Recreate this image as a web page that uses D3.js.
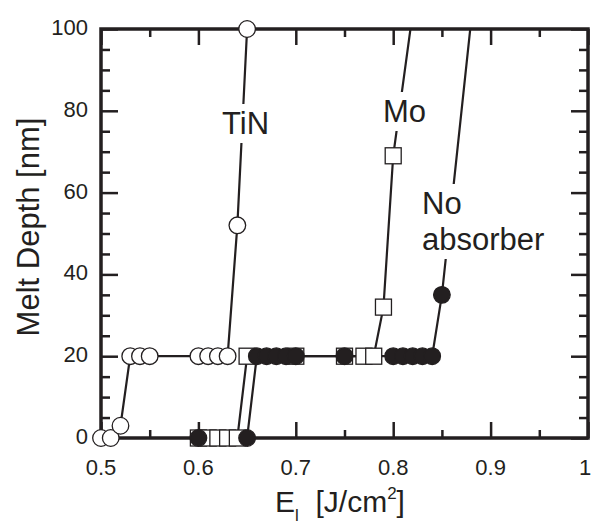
<!DOCTYPE html>
<html>
<head>
<meta charset="utf-8">
<script src="https://cdn.jsdelivr.net/npm/d3@7"></script>
<style>
  body { margin: 0; background: #fff; }
  text { font-family: "Liberation Sans", Arial, Helvetica, sans-serif; fill: #231f20; }
</style>
</head>
<body>
<div class="svg-container"></div>
<script>
// data: E_l [J/cm2] vs melt depth [nm]
const tinE     = [0.50, 0.51, 0.52, 0.53, 0.54, 0.55, 0.60, 0.61, 0.62, 0.63, 0.64, 0.65];
const tinDepth = [0,    0,    3,    20,   20,   20,   20,   20,   20,   20,   52,   100];

const moE      = [0.60, 0.61, 0.62, 0.63, 0.64, 0.65, 0.70, 0.75, 0.77, 0.78, 0.79, 0.80, 0.82];
const moDepth  = [0,    0,    0,    0,    0,    20,   20,   20,   20,   20,   32,   69,   104];

const noE      = [0.60, 0.65, 0.66, 0.67, 0.68, 0.69, 0.70, 0.75, 0.80, 0.81, 0.82, 0.83, 0.84, 0.85, 0.88];
const noDepth  = [0,    0,    20,   20,   20,   20,   20,   20,   20,   20,   20,   20,   20,   35,   102];

const xMajor = [0.5, 0.6, 0.7, 0.8, 0.9, 1];
const xMinor = [0.55, 0.65, 0.75, 0.85, 0.95];
const yMajor = [0, 20, 40, 60, 80, 100];
const yMinor = [5, 10, 15, 25, 30, 35, 45, 50, 55, 65, 70, 75, 85, 90, 95];

const width = 592, height = 527;
const margin = {top: 29, right: 4, bottom: 89, left: 101};
const ink = "#231f20";

const svg = d3.select(".svg-container").append("svg")
  .attr("width", width)
  .attr("height", height);

const x = d3.scaleLinear().domain([0.5, 1]).range([margin.left, width - margin.right]);
const y = d3.scaleLinear().domain([0, 100]).range([height - margin.bottom, margin.top]);

const zip = (xs, ys) => xs.map((v, i) => ({e: v, d: ys[i]}));
const tin = zip(tinE, tinDepth);
const mo = zip(moE, moDepth);
const noAbs = zip(noE, noDepth);

// ticks (all pointing inward)
function tickAxis(axisFn, scale, values, size, transform) {
  const g = svg.append("g")
    .attr("transform", transform)
    .call(axisFn(scale).tickValues(values).tickSizeInner(-size).tickSizeOuter(0).tickFormat(""));
  g.select(".domain").remove();
  g.selectAll("line").attr("stroke", ink).attr("stroke-width", 2.5);
  return g;
}
const bottomY = y(0), topY = y(100), leftX = x(0.5), rightX = x(1);
tickAxis(d3.axisBottom, x, xMajor, 16, `translate(0,${bottomY})`);
tickAxis(d3.axisBottom, x, xMinor, 8, `translate(0,${bottomY})`);
tickAxis(d3.axisTop, x, xMajor, 16, `translate(0,${topY})`);
tickAxis(d3.axisTop, x, xMinor, 8, `translate(0,${topY})`);
tickAxis(d3.axisLeft, y, yMajor, 17, `translate(${leftX},0)`);
tickAxis(d3.axisLeft, y, yMinor, 9, `translate(${leftX},0)`);
tickAxis(d3.axisRight, y, yMajor, 17, `translate(${rightX},0)`);
tickAxis(d3.axisRight, y, yMinor, 9, `translate(${rightX},0)`);

// frame
svg.append("rect")
  .attr("x", leftX).attr("y", topY)
  .attr("width", rightX - leftX).attr("height", bottomY - topY)
  .attr("fill", "none").attr("stroke", ink).attr("stroke-width", 3.5);

// tick labels (the last one is kept inside the window)
svg.append("g").selectAll("text").data(xMajor).join("text")
  .attr("x", d => Math.min(x(d), width - 7)).attr("y", 475)
  .attr("text-anchor", "middle")
  .style("font-size", "22px")
  .text(d => d === 1 ? "1" : d3.format(".1f")(d));

svg.append("g").selectAll("text").data(yMajor).join("text")
  .attr("x", leftX - 13).attr("y", d => y(d) + 6)
  .attr("text-anchor", "end")
  .style("font-size", "22px")
  .text(d => d);

// axis titles
const xt = svg.append("text")
  .attr("x", 275).attr("y", 512)
  .attr("xml:space", "preserve")
  .style("font-size", "30px");
xt.append("tspan").text("E");
xt.append("tspan").attr("dy", 9).style("font-size", "17px").text("l");
xt.append("tspan").attr("dy", -9).text("  [J/cm");
xt.append("tspan").attr("dy", -13).style("font-size", "17px").text("2");
xt.append("tspan").attr("dy", 13).text("]");

svg.append("text")
  .attr("transform", "translate(39,227) rotate(-90)")
  .attr("text-anchor", "middle")
  .style("font-size", "31px")
  .text("Melt Depth [nm]");

// data lines
svg.append("clipPath").attr("id", "plot-clip")
  .append("rect")
  .attr("x", leftX).attr("y", topY)
  .attr("width", rightX - leftX).attr("height", bottomY - topY);

const line = d3.line().x(d => x(d.e)).y(d => y(d.d));
const lines = svg.append("g").attr("clip-path", "url(#plot-clip)");
[tin, mo, noAbs].forEach(s => {
  lines.append("path")
    .datum(s)
    .attr("d", line)
    .attr("fill", "none")
    .attr("stroke", ink)
    .attr("stroke-width", 2.2);
});

// labels sit on white boxes that break the lines
function label(rows, x0, y0, lh) {
  const g = svg.append("g");
  const t = g.append("text").style("font-size", "31px");
  rows.forEach((s, i) => t.append("tspan").attr("x", x0).attr("y", y0 + i * lh).text(s));
  const bb = t.node().getBBox();
  g.insert("rect", "text")
    .attr("x", bb.x - 2).attr("y", bb.y - 2)
    .attr("width", bb.width + 4).attr("height", bb.height + 4)
    .attr("fill", "#fff");
}
label(["TiN"], 222, 134, 0);
label(["Mo"], 383, 122, 0);
label(["No", "absorber"], 422, 214, 36);

// markers (only those inside the range)
const inRange = s => s.filter(d => d.d <= 100);
const r = 8.3;
svg.append("g").selectAll("circle").data(inRange(tin)).join("circle")
  .attr("cx", d => x(d.e)).attr("cy", d => y(d.d)).attr("r", r)
  .attr("fill", "#fff").attr("stroke", ink).attr("stroke-width", 1.3);

svg.append("g").selectAll("rect").data(inRange(mo)).join("rect")
  .attr("x", d => x(d.e) - 8).attr("y", d => y(d.d) - 8)
  .attr("width", 16).attr("height", 16)
  .attr("fill", "#fff").attr("stroke", ink).attr("stroke-width", 1.3);

svg.append("g").selectAll("circle").data(inRange(noAbs)).join("circle")
  .attr("cx", d => x(d.e)).attr("cy", d => y(d.d)).attr("r", r)
  .attr("fill", ink).attr("stroke", ink).attr("stroke-width", 1.3);
</script>
</body>
</html>
